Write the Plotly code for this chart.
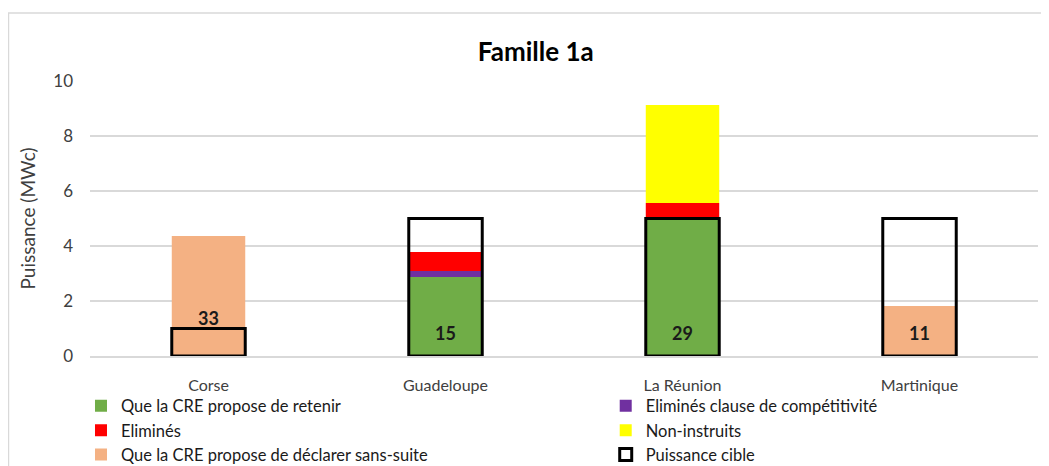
import numpy as np
import plotly.graph_objects as go

categories = ["Corse", "Guadeloupe", "La Réunion", "Martinique"]
retenir = [0.0, 2.87, 5.0, 0.0]
clause = [0.0, 0.22, 0.0, 0.0]
elimines = [0.0, 0.69, 0.56, 0.0]
non_instruits = [0.0, 0.0, 3.57, 0.0]
sans_suite = [4.36, 0.0, 0.0, 1.82]
cible = [1.0, 5.0, 5.0, 5.0]
counts = [33, 15, 29, 11]
label_y = [1.38, 0.84, 0.84, 0.84]

series = [
    ("Que la CRE propose de retenir", retenir, "#70AD47", "legend"),
    ("Eliminés clause de compétitivité", clause, "#7030A0", "legend2"),
    ("Eliminés", elimines, "#FF0000", "legend"),
    ("Non-instruits", non_instruits, "#FFFF00", "legend2"),
    ("Que la CRE propose de déclarer sans-suite", sans_suite, "#F4B183", "legend"),
]

FONT = "Lato"
W, H = 1041, 458  # page has an 8px body margin
fig = go.Figure()
base = np.zeros(len(categories))
for name, vals, col, lg in series:
    v = np.array(vals)
    fig.add_trace(go.Bar(x=categories, y=v, base=base.copy(), name=name, legend=lg,
                         marker=dict(color=col, line=dict(width=0)), width=0.31))
    base = base + v

fig.add_trace(go.Bar(x=categories, y=cible, base=[0] * len(cible), name="Puissance cible",
                     legend="legend2",
                     marker=dict(color="rgba(0,0,0,0)", line=dict(color="black", width=3)),
                     width=0.31))

for c, n, ly in zip(categories, counts, label_y):
    fig.add_annotation(x=c, y=ly, text=f"<b>{n}</b>", showarrow=False,
                       font=dict(family=FONT, size=18, color="#1a1a1a"))

fig.add_shape(type="rect", xref="paper", yref="paper",
              x0=-0.0860, x1=1.05, y0=-0.6, y1=1.247,
              line=dict(color="#d9d9d9", width=1.5), layer="below")

legfont = dict(family=FONT, size=16.5, color="#1a1a1a")
fig.update_layout(
    width=W, height=H,
    margin=dict(l=82, r=11, t=73, b=110, autoexpand=False),
    barmode="overlay",
    plot_bgcolor="white", paper_bgcolor="white",
    font=dict(family=FONT, size=16, color="#404040"),
    title=dict(text="<b>Famille 1a</b>", x=0.507, xanchor="center", y=1 - 44 / H, yanchor="middle",
               font=dict(family=FONT, size=26, color="black")),
    xaxis=dict(showgrid=False, showline=True, linecolor="#d9d9d9", linewidth=1.5,
               ticks="", ticklabelstandoff=14, tickfont=dict(size=16, color="#404040")),
    yaxis=dict(range=[0, 10], dtick=2, showgrid=True, gridcolor="#d9d9d9", gridwidth=1.5,
               zeroline=False, showline=False, ticks="", ticklabelstandoff=16,
               title=dict(text="Puissance (MWc)", standoff=12, font=dict(size=19, color="#404040")),
               tickfont=dict(size=17, color="#404040")),
    legend=dict(orientation="v", x=-0.0095, xanchor="left", y=-0.118, yanchor="top",
                font=legfont, itemwidth=30, tracegroupgap=0, bgcolor="rgba(0,0,0,0)"),
    legend2=dict(orientation="v", x=0.544, xanchor="left", y=-0.118, yanchor="top",
                 font=legfont, itemwidth=30, tracegroupgap=0, bgcolor="rgba(0,0,0,0)"),
    showlegend=True,
)

fig.write_html("out.html")
